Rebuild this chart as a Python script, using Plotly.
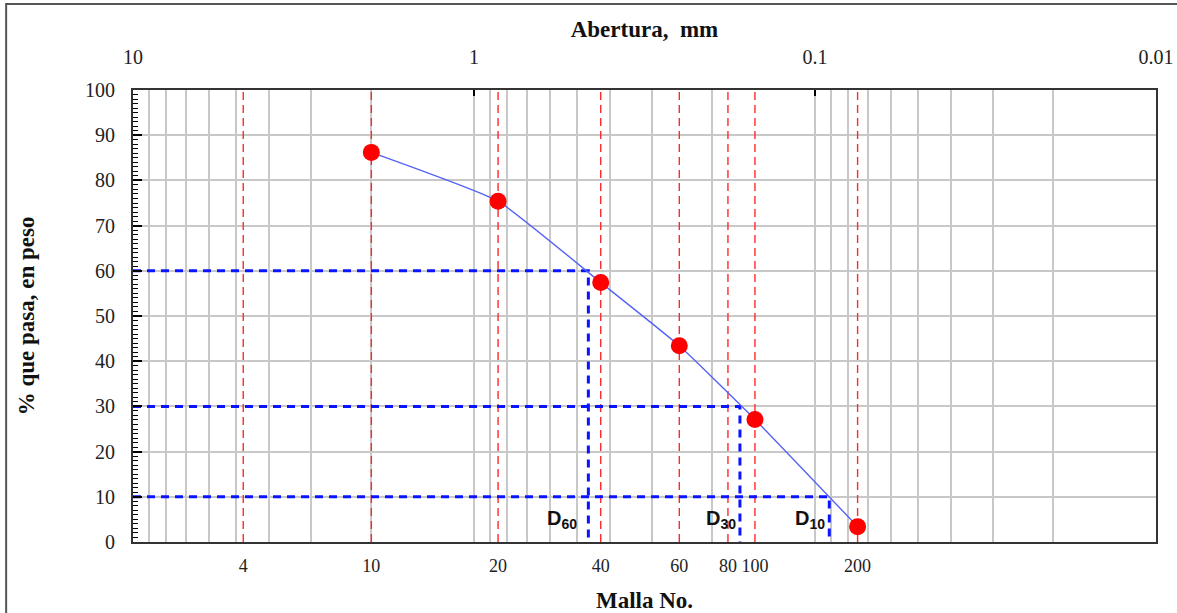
import math
import plotly.graph_objects as go

# ---- data ----
sieve_no = ["4", "10", "20", "40", "60", "80", "100", "200"]
sieve_mm = [4.75, 2.00, 0.850, 0.425, 0.250, 0.180, 0.150, 0.075]

test_no = ["10", "20", "40", "60", "100", "200"]
test_mm = [2.00, 0.850, 0.425, 0.250, 0.150, 0.075]
pct_pass = [86.2, 75.4, 57.4, 43.4, 27.1, 3.4]

d_names = ["60", "30", "10"]
d_pct = [60, 30, 10]
d_mm = [0.462, 0.166, 0.0908]

top_ticks = [10, 1, 0.1, 0.01]
top_text = ["10", "1", "0.1", "0.01"]
grid_mm = [m * 10 ** e for e in (0, -1, -2) for m in range(1, 10)] + [10]

X_MAX_MM = 10
X_RANGE = [math.log10(10), math.log10(0.01)]

SERIF = "Liberation Serif, Times New Roman, serif"
SANS = "Liberation Sans, Arial, sans-serif"
GRID = "#c8c8c8"
FRAME = "#333333"

fig = go.Figure()

# red dashed sieve lines
rx, ry = [], []
for s in sieve_mm:
    rx += [s, s, None]
    ry += [0, 100, None]
fig.add_trace(go.Scatter(x=rx, y=ry, mode="lines", showlegend=False, hoverinfo="skip",
                         line=dict(color="#ff2a2a", width=1.4, dash="8px,5px")))

# blue dashed D lines
bx, by = [], []
for p, d in zip(d_pct, d_mm):
    bx += [X_MAX_MM, d, d, None]
    by += [p, p, 0, None]
fig.add_trace(go.Scatter(x=bx, y=by, mode="lines", showlegend=False, hoverinfo="skip",
                         line=dict(color="#0a14ff", width=3, dash="8px,6px")))

# gradation curve
fig.add_trace(go.Scatter(x=test_mm, y=pct_pass, mode="lines", showlegend=False,
                         line=dict(color="#5563f5", width=1.4, shape="spline", smoothing=0.4)))

# test points (on the top mm axis)
fig.add_trace(go.Scatter(x=test_mm, y=pct_pass, mode="markers", xaxis="x2", showlegend=False,
                         text=test_no,
                         marker=dict(color="#ff0000", size=17, line=dict(width=0))))

annotations = []
for name, d, sh in zip(d_names, d_mm, [-9, -2, -2]):
    annotations.append(dict(
        x=math.log10(d), y=5, xref="x", yref="y", xanchor="right", yanchor="middle",
        xshift=sh, showarrow=False, text=f"<b>D<sub>{name}</sub></b>",
        font=dict(family=SANS, size=20, color="#111111")))

fig.update_layout(
    width=1177, height=613,
    margin=dict(l=133, r=21, t=90, b=71),
    paper_bgcolor="white", plot_bgcolor="white",
    showlegend=False,
    annotations=annotations,
    xaxis=dict(
        type="log", range=X_RANGE, tickmode="array", tickvals=sieve_mm, ticktext=sieve_no,
        ticks="", showgrid=False, zeroline=False,
        tickfont=dict(family=SERIF, size=18, color="#222222"), ticklabelstandoff=6,
        minor=dict(tickmode="array", tickvals=grid_mm, showgrid=True, gridcolor=GRID,
                   gridwidth=1.5, ticks=""),
        showline=True, linecolor=FRAME, linewidth=2, mirror=True,
        title=dict(text="<b>Malla No.</b>", font=dict(family=SERIF, size=23, color="#111111"),
                   standoff=17),
        automargin=False,
    ),
    xaxis2=dict(
        type="log", range=X_RANGE, overlaying="x", side="top", anchor="y",
        tickmode="array", tickvals=top_ticks, ticktext=top_text,
        ticks="inside", ticklen=6, tickcolor="black", tickwidth=1.5,
        showgrid=False, zeroline=False,
        tickfont=dict(family=SERIF, size=20, color="#222222"), ticklabelstandoff=16,
        showline=True, linecolor=FRAME, linewidth=2,
        title=dict(text="<b>Abertura,\u00a0 mm</b>", font=dict(family=SERIF, size=23, color="#111111"),
                   standoff=2),
        automargin=False,
    ),
    yaxis=dict(
        range=[0, 100], tickmode="linear", tick0=0, dtick=10,
        ticks="inside", ticklen=9, tickwidth=1.5, tickcolor="black",
        minor=dict(dtick=1, ticks="inside", ticklen=5, tickcolor="black", tickwidth=1.2, showgrid=False),
        showgrid=True, gridcolor=GRID, gridwidth=1.5, zeroline=False,
        showline=True, linecolor=FRAME, linewidth=2, mirror=True,
        tickfont=dict(family=SERIF, size=20, color="#222222"), ticklabelstandoff=12,
        title=dict(text="<b>% que pasa, en peso</b>", font=dict(family=SERIF, size=23, color="#111111"),
                   standoff=44),
        automargin=False,
    ),
    shapes=[dict(type="rect", xref="paper", yref="paper",
                 x0=-0.124, x1=1.08, y0=-0.3, y1=1.19,
                 line=dict(color="#555555", width=2), fillcolor="rgba(0,0,0,0)", layer="below")],
)

fig.write_html("out.html", config={"displayModeBar": False},
               post_script="document.body.style.margin='0';document.body.style.overflow='hidden';")
